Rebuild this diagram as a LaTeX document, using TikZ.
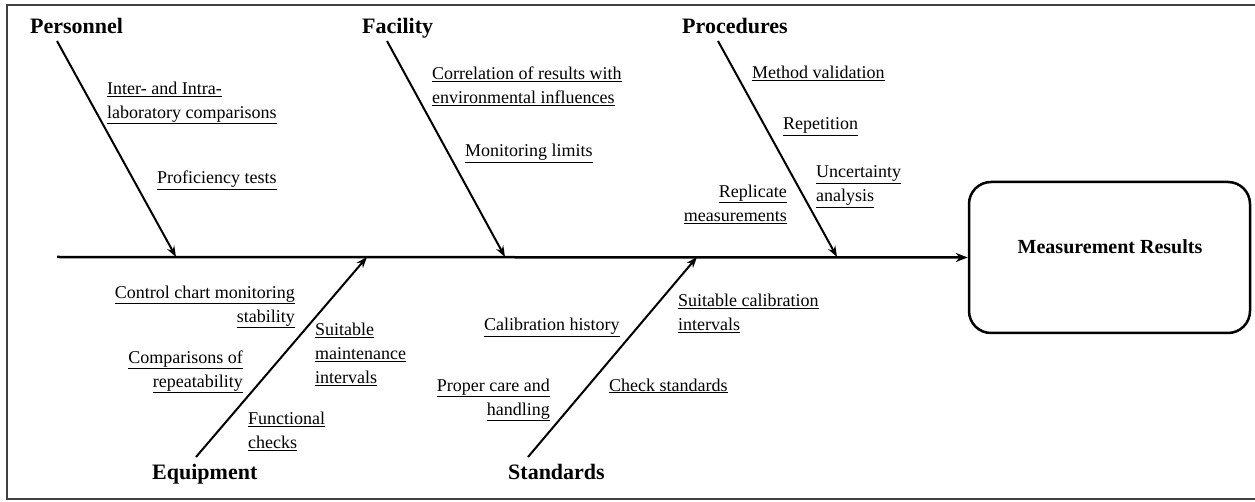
\documentclass[tikz,border=0pt]{standalone}
\usepackage{fontspec}
\setmainfont{Liberation Serif}
\usetikzlibrary{arrows.meta}
\newcommand{\uln}[1]{\underline{#1}}
\tikzset{
  head/.style={font=\fontsize{22}{26}\selectfont\bfseries, inner sep=0pt},
  item/.style={font=\fontsize{18}{24}\selectfont, inner sep=0pt},
  bone/.style={line width=2pt, -{Stealth[length=11pt,width=8pt]}},
  spine/.style={line width=2.5pt, -{Stealth[length=12pt,width=9pt]}},
  frame/.style={line width=2pt, draw=black!75},
  result/.style={draw, line width=2.5pt, rounded corners=22pt, minimum width=281pt, minimum height=151pt,
    font=\fontsize{20}{24}\selectfont\bfseries, inner sep=0pt}
}
\begin{document}
\begin{tikzpicture}[x=1pt,y=-1pt]
\useasboundingbox (0,0) rectangle (1255,502);
\draw[frame] (1262,5) -- (7,5) -- (7,499) -- (1262,499);

% effect box
\node[result] (res) at (1109.5,257.5) {};
\node[font=\fontsize{20}{24}\selectfont\bfseries, inner sep=0pt] (restext) at (1110,247) {Measurement Results};

% spine
\coordinate (tail) at (57,257);
\draw[spine] (tail) -- (res.west);

% heads
\node[head, anchor=base west] (hPer) at (30,34) {Personnel};
\node[head, anchor=base west] (hFac) at (362,34) {Facility};
\node[head, anchor=base west] (hPro) at (682,34) {Procedures};
\node[head, anchor=base west] (hEqu) at (152,479) {Equipment};
\node[head, anchor=base west] (hSta) at (508,479) {Standards};

% bones
\coordinate (per0) at (57,41);   \coordinate (per1) at (176,257);
\coordinate (fac0) at (387,41);  \coordinate (fac1) at (505,257);
\coordinate (pro0) at (718,41);  \coordinate (pro1) at (837,257);
\coordinate (equ0) at (196,457); \coordinate (equ1) at (367,257);
\coordinate (sta0) at (528,457); \coordinate (sta1) at (697,257);
\draw[bone] (per0) -- (per1);
\draw[bone] (fac0) -- (fac1);
\draw[bone] (pro0) -- (pro1);
\draw[bone] (equ0) -- (equ1);
\draw[bone] (sta0) -- (sta1);

% items - Personnel
\node[item, anchor=north west, align=left] (i1) at (107,81.5) {\uln{Inter- and Intra-}\\\uln{laboratory comparisons}};
\node[item, anchor=base west] (i2) at (157,184) {\uln{Proficiency tests}};
% Facility
\node[item, anchor=north west, align=left] (i3) at (432,66.5) {\uln{Correlation of results with}\\\uln{environmental influences}};
\node[item, anchor=base west] (i4) at (465,157) {\uln{Monitoring limits}};
% Procedures
\node[item, anchor=base west] (i5) at (752,79) {\uln{Method validation}};
\node[item, anchor=base west] (i6) at (783,130) {\uln{Repetition}};
\node[item, anchor=north west, align=left] (i7) at (816,165.5) {\uln{Uncertainty}\\\uln{analysis}};
\node[item, anchor=north east, align=right] (i8) at (787,184.5) {\uln{Replicate}\\\uln{measurements}};
% Equipment
\node[item, anchor=north east, align=right] (i9) at (295,285.5) {\uln{Control chart monitoring}\\\uln{stability}};
\node[item, anchor=north east, align=right] (i10) at (243,350.5) {\uln{Comparisons of}\\\uln{repeatability}};
\node[item, anchor=north west, align=left] (i11) at (315,322.5) {\uln{Suitable}\\\uln{maintenance}\\\uln{intervals}};
\node[item, anchor=north west, align=left] (i12) at (248,411.5) {\uln{Functional}\\\uln{checks}};
% Standards
\node[item, anchor=base west] (i13) at (484,331) {\uln{Calibration history}};
\node[item, anchor=north east, align=right] (i14) at (550,378.5) {\uln{Proper care and}\\\uln{handling}};
\node[item, anchor=north west, align=left] (i15) at (678,293.5) {\uln{Suitable calibration}\\\uln{intervals}};
\node[item, anchor=base west] (i16) at (609,391) {\uln{Check standards}};
\end{tikzpicture}
\end{document}
